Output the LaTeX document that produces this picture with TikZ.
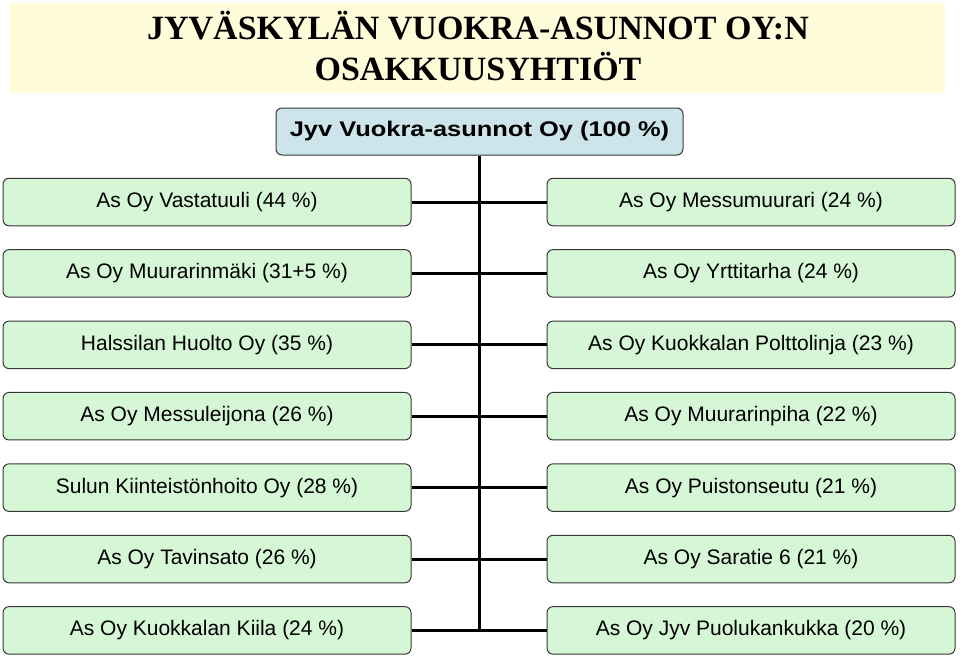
\documentclass[tikz,border=0pt]{standalone}
\usepackage{fontspec}
\setmainfont{Liberation Serif}
\setsansfont{Liberation Sans}
\usetikzlibrary{positioning}
\definecolor{bandyellow}{RGB}{255,252,218}
\definecolor{ownerblue}{RGB}{205,228,234}
\definecolor{firmgreen}{RGB}{214,247,214}
\definecolor{boxedge}{RGB}{55,55,55}

\begin{document}
\begin{tikzpicture}[x=1pt, y=-1pt,
    firm/.style={draw=boxedge, line width=1pt, rounded corners=6pt, fill=firmgreen,
        minimum width=408pt, minimum height=47.5pt, inner sep=0pt,
        font=\sffamily\fontsize{21}{25}\selectfont},
    owner/.style={firm, fill=ownerblue, minimum width=407pt, minimum height=47pt,
        font=\sffamily\bfseries\fontsize{21.2}{25}\selectfont},
    heading/.style={anchor=base, font=\rmfamily\bfseries\fontsize{34}{41}\selectfont},
    link/.style={line width=3pt}]
        \useasboundingbox (0,0) rectangle (960,657);
        \fill[bandyellow] (10,3) rectangle (945,93);
        \node[heading] (title1) at (478,39) {JYVÄSKYLÄN VUOKRA-ASUNNOT OY:N};
        \node[heading] (title2) at (478,80) {OSAKKUUSYHTIÖT};

        \node[owner] (root) at (479.5,131.5) {\scalebox{1.2}[1]{Jyv Vuokra-asunnot Oy (100 \%)}};

        \node[firm] (l1) at (207,202)        {As Oy Vastatuuli (44 \%)};
        \node[firm] (l2) [below=22.9pt of l1] {As Oy Muurarinmäki (31+5 \%)};
        \node[firm] (l3) [below=22.9pt of l2] {Halssilan Huolto Oy (35 \%)};
        \node[firm] (l4) [below=22.9pt of l3] {As Oy Messuleijona (26 \%)};
        \node[firm] (l5) [below=22.9pt of l4] {Sulun Kiinteistönhoito Oy (28 \%)};
        \node[firm] (l6) [below=22.9pt of l5] {As Oy Tavinsato (26 \%)};
        \node[firm] (l7) [below=22.9pt of l6] {As Oy Kuokkalan Kiila (24 \%)};

        \node[firm] (r1) [right=135pt of l1] {As Oy Messumuurari (24 \%)};
        \node[firm] (r2) [right=135pt of l2] {As Oy Yrttitarha (24 \%)};
        \node[firm] (r3) [right=135pt of l3] {As Oy Kuokkalan Polttolinja (23 \%)};
        \node[firm] (r4) [right=135pt of l4] {As Oy Muurarinpiha (22 \%)};
        \node[firm] (r5) [right=135pt of l5] {As Oy Puistonseutu (21 \%)};
        \node[firm] (r6) [right=135pt of l6] {As Oy Saratie 6 (21 \%)};
        \node[firm] (r7) [right=135pt of l7] {As Oy Jyv Puolukankukka (20 \%)};

        \coordinate (trunkend) at (root.south |- l7.east);
        \draw[link] (root.south) -- (trunkend);
        \foreach \i in {1,...,7}
            \draw[link] (l\i.east) -- (r\i.west);
\end{tikzpicture}
\end{document}
